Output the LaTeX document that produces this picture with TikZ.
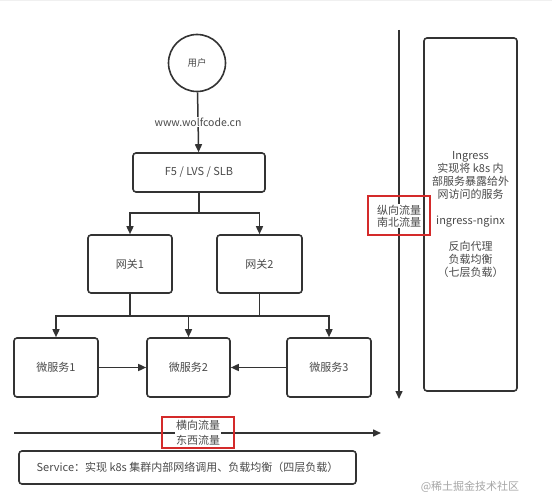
\documentclass[tikz,border=0pt]{standalone}
\usepackage{fontspec}
\setmainfont{Noto Sans CJK SC}
\usetikzlibrary{arrows.meta}
\definecolor{linec}{HTML}{333333}
\definecolor{txt}{HTML}{4A4A4A}
\definecolor{redc}{HTML}{D42A2A}
\begin{document}
\begin{tikzpicture}[x=1pt,y=-1pt,
  box/.style={draw=linec, line width=1.6pt, rounded corners=3pt, fill=white, text=txt,
    font=\fontsize{11}{13}\selectfont, align=center, inner sep=0pt},
  arr/.style={draw=linec, line width=1.5pt, -{Triangle[length=8pt,width=7pt]}},
  ln/.style={draw=linec, line width=1.5pt},
  lbl/.style={fill=white, text=txt, font=\fontsize{11}{12}\selectfont, align=center, inner sep=1pt},
  redbox/.style={draw=redc, line width=1.6pt, inner sep=0pt}]
\useasboundingbox (0,0) rectangle (552,497);
\fill[white] (0,0) rectangle (552,497);
\draw[black!6, line width=0.5pt, step=11pt] (0,-497) grid (552,0);
% vertical axis nodes
\node[circle, draw=linec, line width=1.6pt, fill=white, text=txt, minimum size=57pt,
  font=\fontsize{9.5}{11}\selectfont, inner sep=0pt] (user) at (197,63) {用户};
\node[box, minimum width=132pt, minimum height=39pt] (f5) at (199,172.5) {F5 / LVS / SLB};
\node[box, minimum width=84pt, minimum height=58pt] (gw1) at (130,264) {网关1};
\node[box, minimum width=85pt, minimum height=58pt] (gw2) at (259.5,264) {网关2};
\node[box, minimum width=84pt, minimum height=59pt] (ms1) at (56,367.5) {微服务1};
\node[box, minimum width=83pt, minimum height=59pt] (ms2) at (188.5,367.5) {微服务2};
\node[box, minimum width=84pt, minimum height=59pt] (ms3) at (329,367.5) {微服务3};
\node[box, minimum width=93pt, minimum height=353pt] (ing) at (470.5,214.5)
  {Ingress\\实现将 k8s 内\\部服务暴露给外\\网访问的服务\\[13pt]ingress-nginx\\[13pt]反向代理\\负载均衡\\（七层负载）};
\node[box, minimum width=337pt, minimum height=33pt] (svc) at (187.5,467.5)
  {Service：实现 k8s 集群内部网络调用、负载均衡（四层负载）};
% connectors
\draw[arr] (user) -- (f5);
\node[lbl, font=\fontsize{10.5}{11}\selectfont] (url) at (198,122) {www.wolfcode.cn};
\coordinate (j1) at (199,213);
\draw[ln] (f5.south) -- (j1);
\draw[arr] (j1) -| (gw1.north);
\draw[arr] (j1) -| (gw2.north);
\coordinate (j2) at (188.5,316);
\draw[ln] (gw1.south) |- (j2);
\draw[ln] (gw2.south) |- (j2);
\draw[arr] (j2) -| (ms1.north);
\draw[arr] (j2) -| (ms3.north);
\draw[arr] (j2) -- (ms2.north);
\draw[arr] (ms1.east) -- (ms2.west);
\draw[arr] (ms3.west) -- (ms2.east);
% north-south traffic
\coordinate (vtop) at (399,30);
\coordinate (vbot) at (399,399);
\draw[arr] (vtop) -- (vbot);
\node[lbl] (ns) at (399,216) {纵向流量\\南北流量};
\node[redbox, minimum width=62pt, minimum height=39pt] (nsbox) at (399,215.5) {};
% east-west traffic
\coordinate (hl) at (14,433);
\coordinate (hr) at (381,433);
\draw[arr] (hl) -- (hr);
\node[lbl, font=\fontsize{11}{14.5}\selectfont] (ew) at (198,433) {横向流量\\东西流量};
\node[redbox, minimum width=72pt, minimum height=31pt] (ewbox) at (198,432.5) {};
% watermark
\node[text=black!35, font=\fontsize{11}{12}\selectfont, inner sep=0pt] (wm) at (470,487) {@稀土掘金技术社区};
\end{tikzpicture}
\end{document}
